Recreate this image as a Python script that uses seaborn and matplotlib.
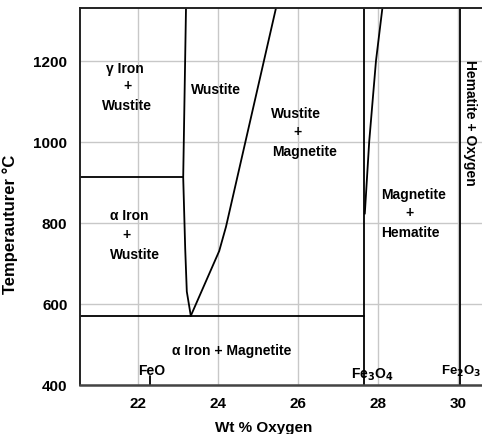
import matplotlib
matplotlib.use("Agg")
import matplotlib.pyplot as plt
import seaborn as sns
import pandas as pd

# Axis ranges and ticks
x_range = [20.55, 30.6]
t_range = [400, 1330]
x_ticks = [22, 24, 26, 28, 30]
t_ticks = [400, 600, 800, 1000, 1200]

# Phase boundaries of the Fe-O system (wt % O, temperature in C)
wustite_left_x = [23.20, 23.13, 23.18, 23.22, 23.32]
wustite_left_t = [1330, 912, 736, 630, 570]
wustite_right_x = [23.32, 24.03, 24.20, 25.45]
wustite_right_t = [570, 730, 790, 1330]
magnetite_right_x = [27.67, 27.78, 27.87, 27.95, 28.11]
magnetite_right_t = [822, 1000, 1106, 1200, 1330]
fe3o4_x = 27.65
hematite_x = 30.05
alpha_gamma_t = 912
alpha_gamma_end_x = 23.13
eutectoid_t = 570
feo_x = 22.31

sns.set_theme(style="whitegrid")
plt.rcParams["font.family"] = ["Liberation Sans", "DejaVu Sans"]
plt.rcParams["font.weight"] = "bold"
plt.rcParams["text.color"] = "black"

fig = plt.figure(figsize=(4.82, 4.35), dpi=100)
ax = fig.add_axes([80 / 482, 1 - 385.7 / 435, 402 / 482, (385.7 - 9) / 435])

curves = {
    "wustite_left": (wustite_left_x, wustite_left_t),
    "wustite_right": (wustite_right_x, wustite_right_t),
    "magnetite_right": (magnetite_right_x, magnetite_right_t),
    "fe3o4": ([fe3o4_x, fe3o4_x], t_range),
    "hematite": ([hematite_x, hematite_x], t_range),
    "alpha_gamma": ([x_range[0], alpha_gamma_end_x], [alpha_gamma_t, alpha_gamma_t]),
    "eutectoid": ([x_range[0], fe3o4_x], [eutectoid_t, eutectoid_t]),
    "feo_tick": ([feo_x, feo_x], [400, 421]),
}
for name, (xs, ts) in curves.items():
    df = pd.DataFrame({"wt": xs, "T": ts})
    sns.lineplot(data=df, x="wt", y="T", sort=False, estimator=None,
                 color="black", lw=1.3, ax=ax)

ax.set_xlim(*x_range)
ax.set_ylim(*t_range)
ax.set_xticks(x_ticks)
ax.set_yticks(t_ticks)
ax.tick_params(axis="both", length=0, labelsize=11, colors="black")
ax.tick_params(axis="x", pad=8)
ax.tick_params(axis="y", pad=9)
for lab in ax.get_xticklabels() + ax.get_yticklabels():
    lab.set_fontweight("bold")
ax.grid(True, color="#c8c8c8", lw=1)

for side in ["top", "left", "bottom"]:
    ax.spines[side].set_visible(True)
    ax.spines[side].set_color("#222222")
    ax.spines[side].set_linewidth(1.4)
ax.spines["bottom"].set_color("#444444")
ax.spines["bottom"].set_linewidth(1.8)
ax.spines["right"].set_visible(False)

ax.set_xlabel("Wt % Oxygen", fontsize=11, fontweight="bold", color="black")
ax.set_ylabel("Temperauturer °C", fontsize=12, fontweight="bold", color="black")
ax.xaxis.set_label_coords(0.458, -0.095)
ax.yaxis.set_label_coords(-0.155, 0.427)

kw = dict(fontsize=10, fontweight="bold", ha="center", va="center", color="black")
labels = [
    ("γ Iron", 21.67, 1183), ("+", 21.74, 1139), ("Wustite", 21.72, 1090),
    ("α Iron", 21.78, 818), ("+", 21.72, 771), ("Wustite", 21.92, 723),
    ("Wustite", 23.96, 1131),
    ("Wustite", 25.96, 1072), ("+", 25.98, 1026), ("Magnetite", 26.17, 976),
    ("Magnetite", 28.88, 872), ("+", 28.78, 827), ("Hematite", 28.80, 778),
    ("α Iron + Magnetite", 24.35, 486),
    ("FeO", 22.34, 436),
    ("Fe$_3$O$_4$", 27.85, 428),
]
for text, x, t in labels:
    ax.text(x, t, text, **kw)
ax.text(0.998, 436, "Fe$_2$O$_3$", fontsize=9.5, fontweight="bold", color="black",
        ha="right", va="center", transform=ax.get_yaxis_transform())
ax.text(30.30, 1050, "Hematite + Oxygen", fontsize=10, fontweight="bold",
        ha="center", va="center", rotation=-90, color="black")

fig.savefig("out.png", dpi=100)
